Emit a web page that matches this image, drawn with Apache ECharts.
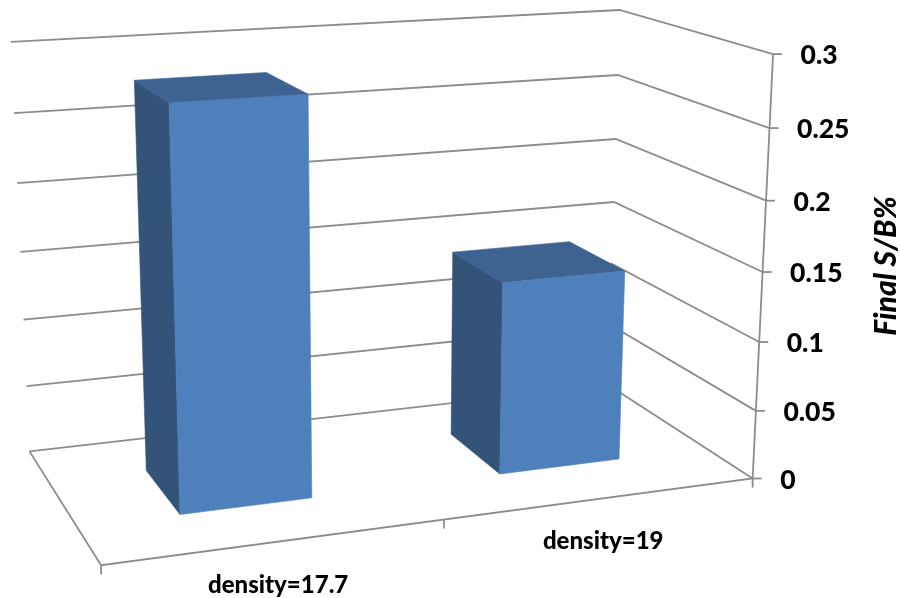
<!DOCTYPE html>
<html>
<head>
<meta charset="utf-8">
<style>html,body{margin:0;padding:0;background:#fff}#chart{width:900px;height:598px}</style>
<script src="https://cdn.jsdelivr.net/npm/echarts@6/dist/echarts.min.js"></script>
</head>
<body>
<div id="chart"></div>
<script>
// Chart content
const categories = ['density=17.7', 'density=19'];
const finalSB = [0.28, 0.14];
const tickValues = [0, 0.05, 0.1, 0.15, 0.2, 0.25, 0.3];
const tickLabels = ['0', '0.05', '0.1', '0.15', '0.2', '0.25', '0.3'];
const axisTitle = 'Final S/B%';

// Box proportions, the same idea as gap width and gap depth in a 3-D column chart
const BAR_WIDTH = 0.4;
const DEPTH_FRONT = 0.3;
const DEPTH_BACK = 0.7;

// Where the walls of the plot box sit on screen, from value 0 up to the axis maximum
const backLeft = [[30,452],[27,386],[23,319],[20,252],[17,183],[14,113],[11,42]];
const backRight = [[608,385],[610,325],[612,264],[614,202],[616,139],[618,75],[620,10]];
const frontRight = [[753,478.5],[756,411],[760,342],[763,272],[765,201],[769,128],[773,54]];
const frontLeftFloor = [101,565];

const anchors = [];
backLeft.forEach((p, i) => anchors.push([0, i / 6, 1, p[0], p[1]]));
backRight.forEach((p, i) => anchors.push([1, i / 6, 1, p[0], p[1]]));
frontRight.forEach((p, i) => anchors.push([1, i / 6, 0, p[0], p[1]]));
anchors.push([0, 0, 0, frontLeftFloor[0], frontLeftFloor[1]]);

// Least-squares 3x4 camera matrix (last entry fixed at 1) through the anchors
function solveCamera(points) {
  const n = 11;
  const A = Array.from({length: n}, () => new Array(n + 1).fill(0));
  const addRow = (row, rhs) => {
    for (let i = 0; i < n; i++) {
      for (let j = 0; j < n; j++) A[i][j] += row[i] * row[j];
      A[i][n] += row[i] * rhs;
    }
  };
  points.forEach(([u, v, w, x, y]) => {
    addRow([u, v, w, 1, 0, 0, 0, 0, -x * u, -x * v, -x * w], x);
    addRow([0, 0, 0, 0, u, v, w, 1, -y * u, -y * v, -y * w], y);
  });
  for (let c = 0; c < n; c++) {
    let pivot = c;
    for (let r = c + 1; r < n; r++) if (Math.abs(A[r][c]) > Math.abs(A[pivot][c])) pivot = r;
    [A[c], A[pivot]] = [A[pivot], A[c]];
    for (let r = 0; r < n; r++) {
      if (r === c) continue;
      const f = A[r][c] / A[c][c];
      for (let k = c; k <= n; k++) A[r][k] -= f * A[c][k];
    }
  }
  return A.map((row, i) => row[n] / row[i]);
}
const cam = solveCamera(anchors);
function project(u, v, w) {
  const d = cam[8] * u + cam[9] * v + cam[10] * w + 1;
  return [
    (cam[0] * u + cam[1] * v + cam[2] * w + cam[3]) / d,
    (cam[4] * u + cam[5] * v + cam[6] * w + cam[7]) / d
  ];
}

// The hidden cartesian axes supply the scales; their output is read back as unit-box coordinates
function heightOf(api, params, value) {
  const g = params.coordSys;
  return 1 - (api.coord([0, value])[1] - g.y) / g.height;
}
function centerOf(api, params, index) {
  const g = params.coordSys;
  return (api.coord([index, 0])[0] - g.x) / g.width;
}

const LINE = {stroke: '#8c8c8c', lineWidth: 1.8, fill: null};
const line = pts => ({type: 'polyline', shape: {points: pts}, style: LINE, silent: true});
const label = (text, x, y, font, align) => ({
  type: 'text', x, y, silent: true,
  style: {text, x: 0, y: 0, fill: '#000', font, align: align, verticalAlign: 'middle'}
});

function renderGridline(params, api) {
  const value = api.value(0);
  const v = heightOf(api, params, value);
  const corner = project(1, v, 0);
  const kids = [
    line([project(0, v, 1), project(1, v, 1), corner]),
    line([corner, [corner[0] + 9, corner[1]]]),
    label(tickLabels[params.dataIndex], corner[0] + 27.5, corner[1] + 1.5, '900 26.5px Lato', 'left')
  ];
  return {type: 'group', children: kids};
}

function renderFloor(params, api) {
  if (params.dataIndex > 0) {
    return {type: 'group', children: []};
  }
  const a = project(0, 0, 0), b = project(1, 0, 0), c = project(0, 0, 1);
  const mid = project(0.5, 0, 0);
  const tick = p => line([p, [p[0], p[1] + 9]]);
  return {type: 'group', children: [
    line([c, a, b, project(1, 1, 0)]),
    tick(a), tick(mid), tick(b)
  ]};
}

function renderCategoryLabel(params, api) {
  const u = centerOf(api, params, params.dataIndex);
  const p = project(u, 0, 0);
  return label(categories[params.dataIndex], p[0] + 1, p[1] + 43, '900 24px Lato', 'center');
}

function renderBar(params, api) {
  const g = params.coordSys;
  const center = centerOf(api, params, api.value(0));
  const half = api.size([1, 0])[0] / g.width * BAR_WIDTH / 2;
  const top = heightOf(api, params, api.value(1));
  const u0 = center - half, u1 = center + half;
  // A hairline in the face colour closes the seams between neighbouring faces
  const poly = (pts, fill) => ({
    type: 'polygon', shape: {points: pts}, silent: true,
    style: {fill, stroke: fill, lineWidth: 0.6}
  });
  return {type: 'group', children: [
    poly([project(u0, 0, DEPTH_FRONT), project(u0, 0, DEPTH_BACK), project(u0, top, DEPTH_BACK), project(u0, top, DEPTH_FRONT)], '#345379'),
    poly([project(u0, top, DEPTH_FRONT), project(u0, top, DEPTH_BACK), project(u1, top, DEPTH_BACK), project(u1, top, DEPTH_FRONT)], '#3E6391'),
    poly([project(u0, 0, DEPTH_FRONT), project(u1, 0, DEPTH_FRONT), project(u1, top, DEPTH_FRONT), project(u0, top, DEPTH_FRONT)], '#4E80BC')
  ]};
}

const chart = echarts.init(document.getElementById('chart'));
chart.setOption({
  animation: false,
  backgroundColor: '#fff',
  tooltip: {show: false},
  grid: {left: 0, right: 0, top: 0, bottom: 0},
  xAxis: {type: 'category', data: categories, show: false},
  yAxis: {type: 'value', min: 0, max: 0.3, interval: 0.05, show: false},
  graphic: [{
    type: 'text', x: 886, y: 266, rotation: Math.PI / 2, silent: true,
    style: {text: axisTitle, x: 0, y: 0, fill: '#000', font: 'italic 900 30px Lato', align: 'center', verticalAlign: 'middle'}
  }],
  series: [
    {type: 'custom', coordinateSystem: 'cartesian2d', renderItem: renderGridline, clip: false, z: 1,
     data: tickValues.map(v => [v]), encode: {y: 0}},
    {type: 'custom', coordinateSystem: 'cartesian2d', renderItem: renderFloor, clip: false, z: 1,
     data: categories.map((c, i) => [i, 0])},
    {type: 'custom', coordinateSystem: 'cartesian2d', renderItem: renderCategoryLabel, clip: false, z: 1,
     data: categories.map((c, i) => [i, 0])},
    {type: 'custom', coordinateSystem: 'cartesian2d', renderItem: renderBar, clip: false, z: 2,
     data: finalSB.map((v, i) => [i, v]), encode: {x: 0, y: 1}}
  ]
});
</script>
</body>
</html>
